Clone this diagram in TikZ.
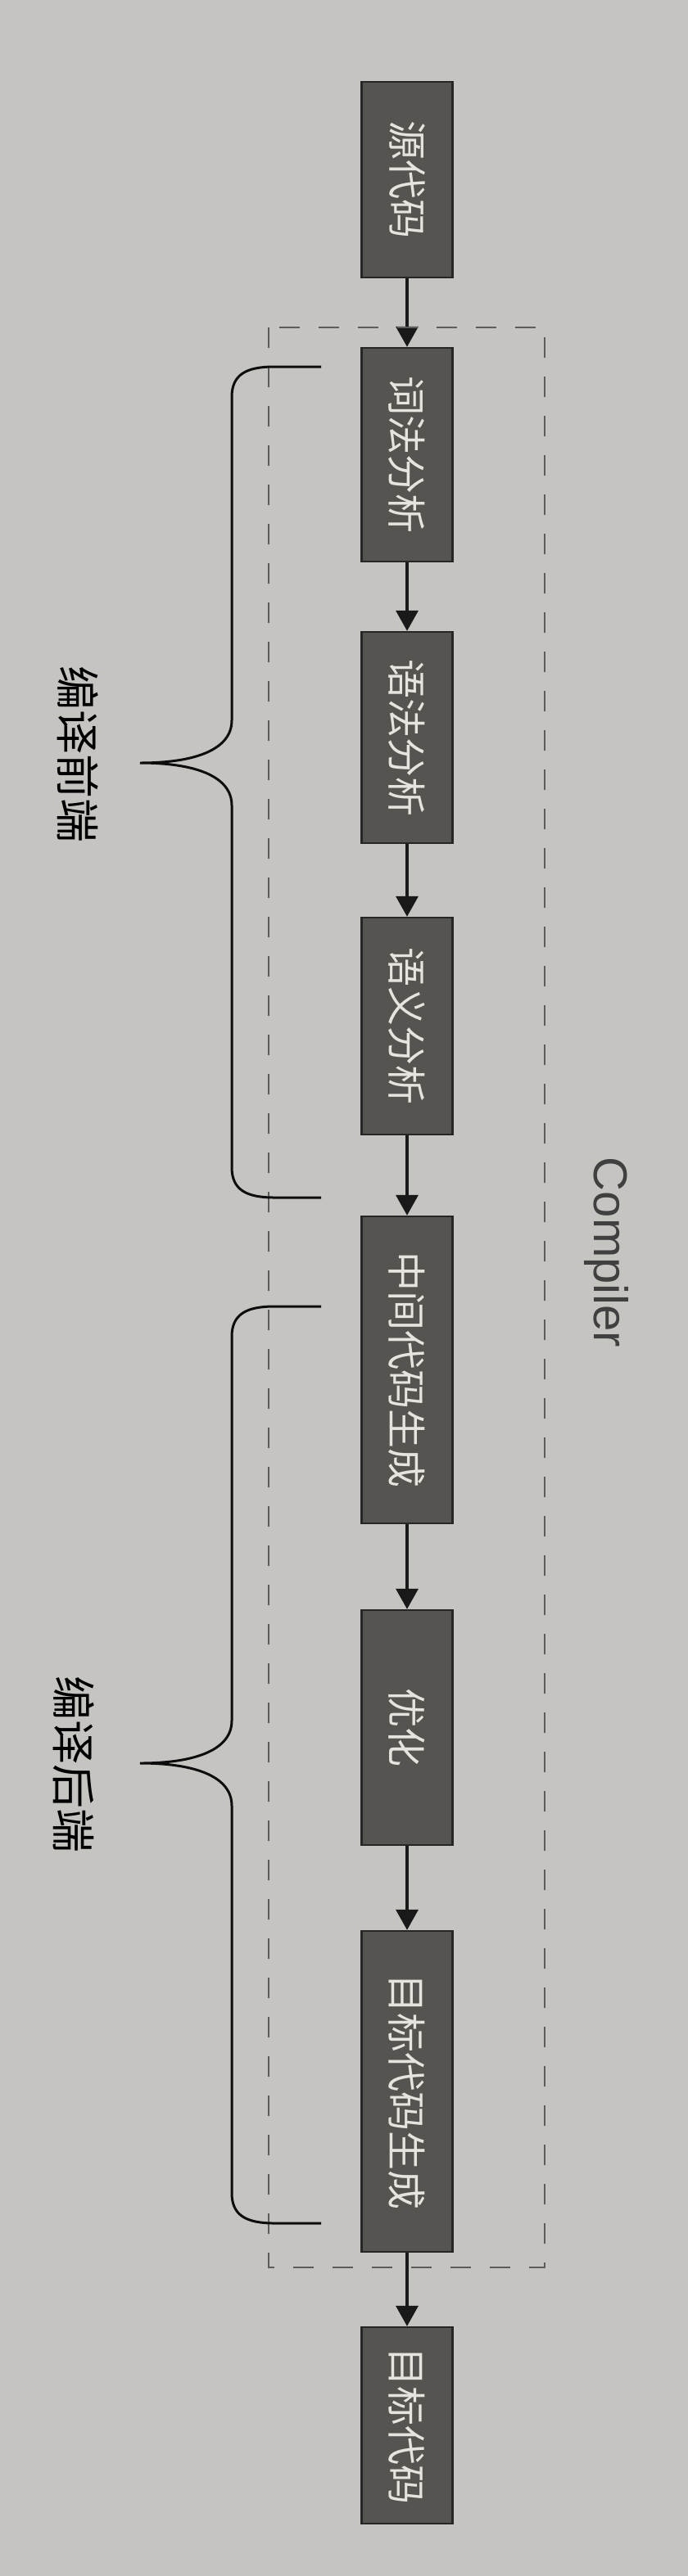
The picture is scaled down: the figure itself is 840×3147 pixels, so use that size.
\documentclass[tikz,border=0pt]{standalone}
\usepackage{fontspec}
\newfontfamily\cjkfont{Noto Sans CJK SC}
\newfontfamily\latinfont{Liberation Sans}
\usetikzlibrary{arrows.meta}

\definecolor{paper}{RGB}{198,196,192}
\definecolor{boxfill}{RGB}{86,84,80}
\definecolor{boxtext}{RGB}{230,228,222}
\definecolor{dashgray}{RGB}{92,92,92}

\begin{document}
\begin{tikzpicture}[x=0.5pt, y=-0.5pt,
    stage/.style={draw=black!85, line width=1.2pt, fill=boxfill, text=boxtext,
      rotate=-90, minimum height=55.5pt, inner sep=0pt,
      font=\cjkfont\fontsize{24}{28}\selectfont},
    flow/.style={-{Triangle[width=13.5pt,length=12.5pt]}, line width=1.8pt, black!90},
    side/.style={rotate=-90, inner sep=0pt, font=\cjkfont\fontsize{27}{30}\selectfont},
    bracket/.style={line width=1.5pt, black!95}]
    \useasboundingbox (0,0) rectangle (840,3147);
    \fill[paper] (0,0) rectangle (840,3147);

    % Stages, top to bottom
    \node[stage, minimum width=119.5pt] at (497, 219.5) (src) {源代码};
    \node[stage, minimum width=130.5pt] at (497, 555.5) (lex) {词法分析};
    \node[stage, minimum width=129pt] at (497, 901) (syn) {语法分析};
    \node[stage, minimum width=132.5pt] at (497, 1253.5) (sem) {语义分析};
    \node[stage, minimum width=187.5pt] at (497, 1673.5) (ir) {中间代码生成};
    \node[stage, minimum width=143.5pt] at (497, 2110.5) (opt) {优化};
    \node[stage, minimum width=196pt] at (497, 2555) (gen) {目标代码生成};
    \node[stage, minimum width=120pt] at (497, 2963) (target) {目标代码};

    \draw[flow] (src) -- (lex);
    \draw[flow] (lex) -- (syn);
    \draw[flow] (syn) -- (sem);
    \draw[flow] (sem) -- (ir);
    \draw[flow] (ir) -- (opt);
    \draw[flow] (opt) -- (gen);
    \draw[flow] (gen) -- (target);

    % Compiler frame
    \draw[dashgray, line width=1.4pt, dash pattern=on 12.5pt off 11.5pt] (328, 400) rectangle (665, 2770);
    \node[rotate=-90, text=black!75, font=\latinfont\fontsize{29}{32}\selectfont] at (740, 1530) (compiler) {Compiler};

    % Braces
    \draw[bracket] (392, 448) -- (335, 448) .. controls (300, 448) and (283, 458) .. (283, 485)
      -- (283, 880) .. controls (283, 915) and (240, 932) .. (171, 932)
      .. controls (240, 932) and (283, 949) .. (283, 984)
      -- (283, 1426) .. controls (283, 1453) and (300, 1463) .. (335, 1463) -- (392, 1463);
    \draw[bracket] (392, 1596) -- (335, 1596) .. controls (300, 1596) and (283, 1606) .. (283, 1633)
      -- (283, 2102) .. controls (283, 2137) and (240, 2154) .. (171, 2154)
      .. controls (240, 2154) and (283, 2171) .. (283, 2206)
      -- (283, 2679) .. controls (283, 2706) and (300, 2716) .. (335, 2716) -- (392, 2716);

    \node[side] at (95, 921) (front) {编译前端};
    \node[side] at (90, 2155) (back) {编译后端};

  \end{tikzpicture}
\end{document}
